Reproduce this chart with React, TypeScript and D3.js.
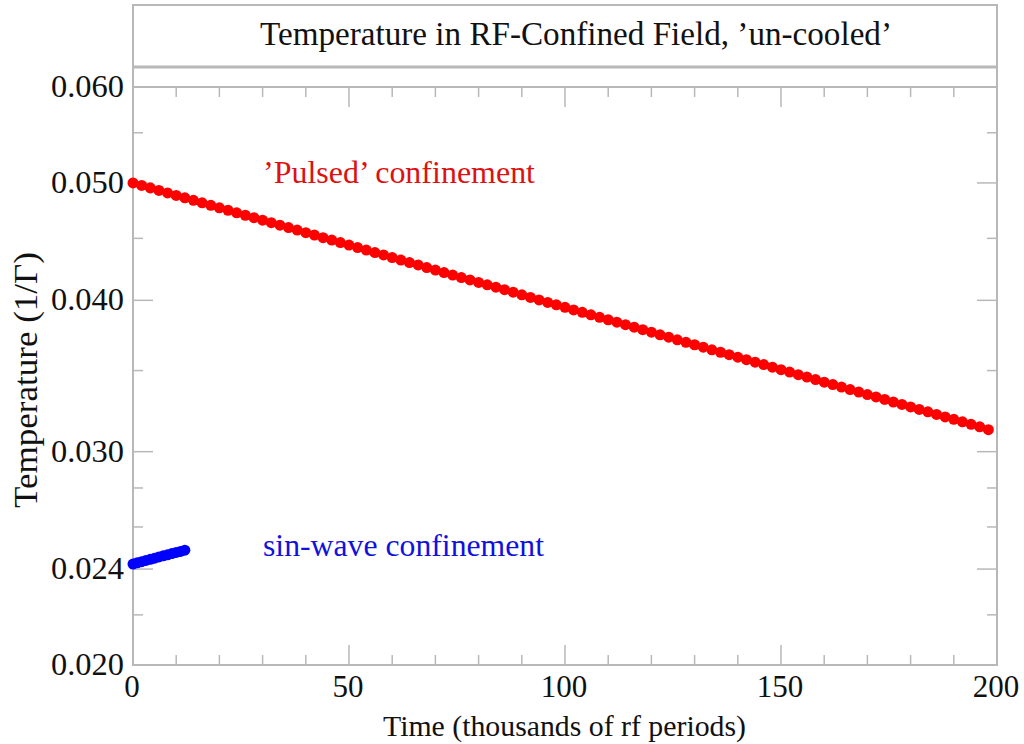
import React from "react";
import * as d3 from "d3";

const pulsedX: number[] = Array.from({ length: 100 }, (_, i) => i * 2);
const pulsedT: number[] = [
  0.05000, 0.04976, 0.04953, 0.04929, 0.04906, 0.04883, 0.04860, 0.04837, 0.04814, 0.04792,
  0.04769, 0.04747, 0.04724, 0.04702, 0.04680, 0.04658, 0.04636, 0.04614, 0.04593, 0.04571,
  0.04549, 0.04528, 0.04506, 0.04485, 0.04464, 0.04443, 0.04422, 0.04401, 0.04380, 0.04360,
  0.04339, 0.04318, 0.04298, 0.04278, 0.04257, 0.04237, 0.04217, 0.04197, 0.04177, 0.04158,
  0.04138, 0.04120, 0.04101, 0.04082, 0.04062, 0.04042, 0.04022, 0.04003, 0.03984, 0.03966,
  0.03947, 0.03928, 0.03910, 0.03891, 0.03873, 0.03855, 0.03837, 0.03819, 0.03801, 0.03783,
  0.03765, 0.03746, 0.03729, 0.03711, 0.03693, 0.03676, 0.03659, 0.03641, 0.03624, 0.03607,
  0.03590, 0.03573, 0.03556, 0.03540, 0.03523, 0.03506, 0.03490, 0.03473, 0.03457, 0.03441,
  0.03424, 0.03408, 0.03392, 0.03376, 0.03360, 0.03344, 0.03329, 0.03313, 0.03297, 0.03282,
  0.03266, 0.03251, 0.03236, 0.03220, 0.03205, 0.03190, 0.03175, 0.03160, 0.03145, 0.03128,
];

const sineX: number[] = [0, 1, 2, 3, 4, 5, 6, 7, 8, 9, 10, 11, 12];
const sineT: number[] = [
  0.02423, 0.02429, 0.02434, 0.02440, 0.02445, 0.02450, 0.02456, 0.02461, 0.02466, 0.02472,
  0.02477, 0.02482, 0.02488,
];

const xMajor: number[] = [0, 50, 100, 150, 200];
const xMinor: number[] = [10, 20, 30, 40, 60, 70, 80, 90, 110, 120, 130, 140, 160, 170, 180, 190];
const yMajor: number[] = [0.02, 0.024, 0.03, 0.04, 0.05, 0.06];
const yMajorLabels: string[] = ["0.020", "0.024", "0.030", "0.040", "0.050", "0.060"];
const yMinor: number[] = [0.022, 0.026, 0.028, 0.035, 0.045, 0.055];

const titleText = "Temperature in RF-Confined Field, \u2019un-cooled\u2019";
const xLabel = "Time (thousands of rf periods)";
const yLabel = "Temperature (1/\u0393)";
const pulsedLabel = "\u2019Pulsed\u2019 confinement";
const sineLabel = "sin-wave confinement";

export default function App() {
  const W = 1024, H = 744;
  const left = 133, right = 997, top = 87, bottom = 665;
  const x = d3.scaleLinear().domain([0, 200]).range([left, right]);
  const y = d3.scaleLog().domain([0.02, 0.06]).range([bottom, top]);
  const gray = "#b8b8b8";
  const font = "'Liberation Serif', 'Times New Roman', serif";
  const major = 20, minor = 10;
  const ink = "#111";

  return (
    <svg width={W} height={H} style={{ position: "absolute", left: 0, top: 0 }} fontFamily={font}>
      <rect x={0} y={0} width={W} height={H} fill="white" />
      {/* frame */}
      <rect x={left} y={5} width={right - left} height={bottom - 5} fill="none" stroke={gray} strokeWidth={2} />
      <line x1={left} x2={right} y1={67} y2={67} stroke={gray} strokeWidth={3} />
      <line x1={left} x2={right} y1={top} y2={top} stroke={gray} strokeWidth={2} />
      <text x={260} y={45} fontSize={33} fill={ink} textLength={632} lengthAdjust="spacingAndGlyphs">{titleText}</text>

      {/* x ticks bottom & top */}
      {xMajor.map((v) => (
        <g key={"xM" + v}>
          <line x1={x(v)} x2={x(v)} y1={bottom} y2={bottom - major} stroke={gray} strokeWidth={1.5} />
          <line x1={x(v)} x2={x(v)} y1={top} y2={top + major} stroke={gray} strokeWidth={1.5} />
          <text x={x(v) - 1} y={697} textAnchor="middle" fontSize={31} fill={ink}>{v}</text>
        </g>
      ))}
      {xMinor.map((v) => (
        <g key={"xm" + v}>
          <line x1={x(v)} x2={x(v)} y1={bottom} y2={bottom - minor} stroke={gray} strokeWidth={1.5} />
          <line x1={x(v)} x2={x(v)} y1={top} y2={top + minor} stroke={gray} strokeWidth={1.5} />
        </g>
      ))}
      {/* y ticks left & right */}
      {yMajor.map((v, i) => (
        <g key={"yM" + v}>
          <line x1={left} x2={left + major} y1={y(v)} y2={y(v)} stroke={gray} strokeWidth={1.5} />
          <line x1={right} x2={right - major} y1={y(v)} y2={y(v)} stroke={gray} strokeWidth={1.5} />
          <text x={124} y={y(v) + 10} textAnchor="end" fontSize={31} fill={ink} textLength={73} lengthAdjust="spacingAndGlyphs">{yMajorLabels[i]}</text>
        </g>
      ))}
      {yMinor.map((v) => (
        <g key={"ym" + v}>
          <line x1={left} x2={left + minor} y1={y(v)} y2={y(v)} stroke={gray} strokeWidth={1.5} />
          <line x1={right} x2={right - minor} y1={y(v)} y2={y(v)} stroke={gray} strokeWidth={1.5} />
        </g>
      ))}

      <text x={383} y={736} fontSize={30} fill={ink} textLength={363} lengthAdjust="spacingAndGlyphs">{xLabel}</text>
      <text transform={`translate(37, 508) rotate(-90)`} fontSize={33} fill={ink} textLength={256} lengthAdjust="spacingAndGlyphs">{yLabel}</text>

      {/* data */}
      {pulsedX.map((v, i) => (
        <circle key={"p" + i} cx={x(v)} cy={y(pulsedT[i])} r={5.5} fill="#ff0000" />
      ))}
      {sineX.map((v, i) => (
        <circle key={"s" + i} cx={x(v)} cy={y(sineT[i])} r={5.5} fill="#0000ff" />
      ))}

      <text x={263} y={183} fontSize={32} fill="#dd1111" textLength={272} lengthAdjust="spacingAndGlyphs">{pulsedLabel}</text>
      <text x={263} y={556} fontSize={32} fill="#1111dd" textLength={281} lengthAdjust="spacingAndGlyphs">{sineLabel}</text>
    </svg>
  );
}
